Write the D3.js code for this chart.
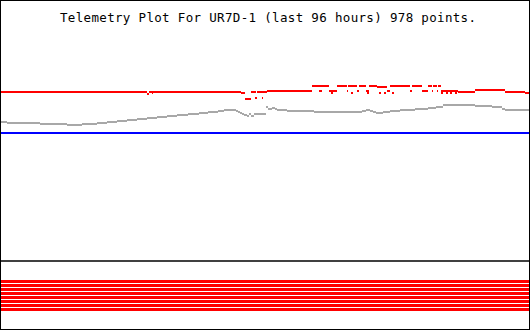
<!DOCTYPE html>
<html>
<head>
<meta charset="utf-8">
<script src="https://cdn.jsdelivr.net/npm/d3@7"></script>
<style>
  body { margin: 0; background: #fff; }
  svg { display: block; }
</style>
</head>
<body>
<svg></svg>
<script>
var title = "Telemetry Plot For UR7D-1 (last 96 hours) 978 points.";
var hours = 96;

// telemetry runs: [from hour, to hour, value]
var red = [
  [0, 26.55, 167], [26.55, 26.91, 165], [26.91, 43.64, 167], [27.45, 27.64, 166],
  [43.64, 44.36, 166], [44.36, 45.45, 160], [45.45, 46.36, 167], [46.18, 46.55, 161],
  [46.55, 47.64, 167], [47.45, 47.64, 161], [47.64, 48.36, 167], [48.36, 56.55, 168],
  [56.55, 59.64, 173], [57.82, 58.36, 168], [59.64, 61.09, 168], [60.0, 60.36, 166],
  [61.09, 62.91, 173], [62.91, 63.09, 168], [63.09, 64.73, 173], [63.64, 64.0, 166],
  [64.73, 65.09, 168], [65.09, 66.36, 173], [66.36, 66.91, 168], [66.55, 66.91, 166],
  [66.91, 68.36, 173], [68.36, 70.18, 172], [68.73, 69.09, 166], [69.64, 70.0, 166],
  [70.18, 70.73, 168], [71.09, 71.45, 166], [70.73, 74.36, 173], [74.36, 74.73, 168],
  [74.73, 76.55, 173], [76.55, 77.64, 168], [77.64, 78.36, 173], [78.36, 78.55, 168],
  [78.55, 79.27, 173], [79.27, 79.45, 168], [79.45, 80.0, 173], [80.0, 83.09, 168],
  [80.0, 80.36, 166], [80.91, 81.27, 166], [81.64, 82.0, 166], [82.55, 82.91, 166],
  [83.09, 86.18, 167], [86.18, 91.64, 169], [91.64, 95.27, 167], [95.27, 96, 166]
];

var gray = [
  [0, 1.09, 137], [1.09, 7.09, 136], [7.09, 12.0, 135], [12.0, 14.73, 134],
  [14.73, 17.45, 135], [17.45, 19.27, 136], [19.27, 21.09, 137], [21.09, 22.91, 138],
  [22.91, 24.73, 139], [24.73, 26.55, 140], [26.55, 28.36, 141], [28.36, 30.18, 142],
  [30.18, 32.0, 143], [32.0, 34.0, 144], [34.0, 36.0, 145], [36.0, 37.64, 146],
  [37.64, 39.45, 147], [39.45, 40.55, 148], [40.55, 42.73, 149], [42.73, 43.09, 148],
  [43.09, 43.45, 147], [43.45, 43.82, 146], [43.82, 44.18, 145], [44.18, 44.73, 144],
  [44.73, 45.09, 143], [45.09, 45.45, 145], [45.45, 46.0, 143], [46.0, 48.18, 145],
  [48.18, 48.55, 152], [48.55, 49.27, 150], [49.27, 49.82, 151], [49.82, 50.18, 150],
  [50.18, 52.0, 149], [52.0, 56.91, 148], [56.91, 65.64, 147], [65.64, 66.36, 148],
  [66.36, 67.09, 149], [67.09, 67.64, 148], [67.64, 68.18, 147], [68.18, 69.45, 146],
  [69.45, 70.73, 147], [70.73, 72.55, 148], [72.55, 75.27, 149], [75.27, 77.64, 150],
  [77.64, 79.09, 151], [79.09, 80.36, 152], [80.36, 86.18, 154], [86.18, 89.27, 153],
  [89.27, 91.09, 152], [91.09, 91.64, 150], [91.64, 96, 149]
];

var blue = [[0, 96, 126]];

// 8 digital channels, all on for the whole window
var bits = [1, 1, 1, 1, 1, 1, 1, 1];

var width = 530, height = 330;

var svg = d3.select('svg')
  .attr('width', width)
  .attr('height', height)
  .attr('shape-rendering', 'crispEdges');

var x = d3.scaleLinear().domain([0, hours]).range([1, 529]);
var y = d3.scaleLinear().domain([0, 255]).range([259, 4]);
var yBits = d3.scaleBand().domain(d3.range(bits.length)).range([280, 312]);

function drawRuns(data, color) {
  svg.append('g')
    .selectAll('rect')
    .data(data)
    .enter()
    .append('rect')
    .attr('x', function (d) { return Math.round(x(d[0])); })
    .attr('width', function (d) { return Math.max(1, Math.round(x(d[1])) - Math.round(x(d[0]))); })
    .attr('y', function (d) { return Math.round(y(d[2])) - 1; })
    .attr('height', 2)
    .attr('fill', color);
}

drawRuns(gray, '#a8a8a8');
drawRuns(blue, '#0000ff');
drawRuns(red, '#ff0000');

// divider between analog and digital panels
svg.append('rect')
  .attr('x', x(0)).attr('y', 260)
  .attr('width', x(hours) - x(0)).attr('height', 2)
  .attr('fill', '#404040');

svg.append('g')
  .selectAll('rect')
  .data(bits)
  .enter()
  .append('rect')
  .filter(function (d) { return d; })
  .attr('x', x(0))
  .attr('width', x(hours) - x(0))
  .attr('y', function (d, i) { return yBits(i); })
  .attr('height', yBits.bandwidth() - 1)
  .attr('fill', '#ff0000');

svg.append('text')
  .attr('x', 60)
  .attr('y', 22)
  .attr('font-family', 'DejaVu Sans Mono')
  .attr('font-size', 12.5)
  .attr('textLength', 416)
  .attr('fill', '#000')
  .text(title);

svg.append('rect')
  .attr('x', 0.5).attr('y', 0.5)
  .attr('width', width - 1).attr('height', height - 1)
  .attr('fill', 'none')
  .attr('stroke', '#000');
</script>
</body>
</html>
